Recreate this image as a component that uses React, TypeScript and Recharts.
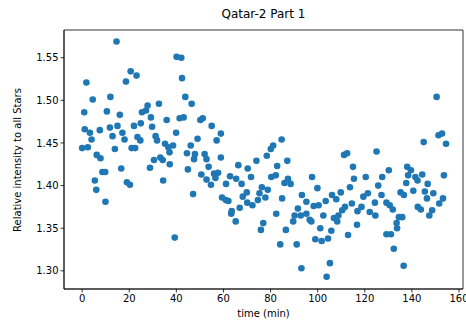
import React from 'react';
import { ScatterChart, Scatter, XAxis, YAxis, ReferenceArea } from 'recharts';

// time (min) and relative intensity
const times = [
    0.0, 0.9, 1.1, 1.8, 2.4, 3.3, 4.0, 4.5, 5.4, 6.0, 6.2, 7.5, 7.8, 8.6, 9.8, 9.9, 10.5, 11.8, 12.0, 12.9,
    13.9, 14.6, 15.0, 16.0, 16.6, 17.1, 18.0, 18.6, 19.0, 20.3, 20.6, 21.0, 22.0, 22.5, 23.1, 23.5, 24.7, 24.9, 25.4,
    27.1, 27.8, 28.8, 29.2, 29.7, 30.5, 31.2, 31.8, 32.6, 33.2, 34.2, 34.4, 35.2, 35.9, 36.6, 37.1, 37.2, 38.6, 39.3,
    39.9, 40.1, 41.4, 42.1, 42.4, 43.1, 43.8, 44.5, 44.9, 46.1, 46.5, 47.1, 47.5, 47.9, 49.0, 50.2, 50.6, 51.2, 52.0,
    52.8, 52.8, 53.7, 54.7, 55.0, 56.0, 56.6, 57.1, 57.7, 58.9, 58.9, 59.4,
    61.0, 61.1, 62.1, 62.8, 63.3, 63.5, 65.2, 65.4, 66.3, 66.9, 67.7, 68.2, 69.9, 70.1, 70.3, 71.7, 72.3, 74.0, 74.6,
    75.3, 75.9, 76.3, 76.9, 77.8, 78.4, 78.8, 80.1, 80.3, 81.1, 82.2, 82.4, 82.8, 84.1, 84.7, 84.9, 85.9, 86.5, 87.1,
    87.4, 88.5, 89.6, 90.2, 91.1, 91.6, 92.8, 93.1, 93.3,
    95.2, 95.2, 96.6, 97.3, 97.6, 98.3, 99.0, 99.9, 100.4, 101.1, 101.7, 102.4, 103.4, 103.8, 104.4, 105.2, 105.8,
    106.1, 106.9, 107.9, 108.3, 108.8, 109.8, 110.4, 111.2, 111.6, 112.5, 112.9, 113.7, 114.5, 115.0, 115.4, 116.7,
    116.9, 118.6, 119.4, 120.4, 121.3, 122.1, 124.3, 124.5, 125.0, 125.7, 127.1, 127.4,
    129.2, 129.2, 130.2, 130.6, 131.1, 131.9, 132.3, 133.5, 133.7, 134.5, 135.2, 135.9, 136.5, 136.6, 137.6, 138.0,
    138.4, 139.6, 140.6, 141.5, 142.4, 142.5, 143.8, 144.4, 145.0, 145.5, 146.4, 146.7, 147.4, 148.6, 149.1, 150.5,
    151.3, 151.6, 152.8, 153.2, 153.6, 154.5,
];

const intensity = [
    1.444, 1.486, 1.466, 1.521, 1.445, 1.462, 1.454, 1.501, 1.406, 1.395, 1.436, 1.465, 1.432, 1.416, 1.416, 1.381, 1.487, 1.468, 1.504, 1.458,
    1.443, 1.569, 1.470, 1.483, 1.420, 1.462, 1.454, 1.522, 1.404, 1.401, 1.534, 1.444, 1.470, 1.444, 1.529, 1.457, 1.453, 1.473, 1.486,
    1.488, 1.494, 1.421, 1.480, 1.469, 1.430, 1.458, 1.453, 1.496, 1.433, 1.430, 1.406, 1.449, 1.477, 1.445, 1.439, 1.425, 1.447, 1.339,
    1.462, 1.551, 1.479, 1.550, 1.526, 1.480, 1.504, 1.438, 1.419, 1.447, 1.496, 1.390, 1.431, 1.437, 1.455, 1.477, 1.413, 1.479, 1.437,
    1.431, 1.407, 1.422, 1.401, 1.470, 1.414, 1.409, 1.453, 1.415, 1.461, 1.433, 1.386,
    1.383, 1.402, 1.382, 1.411, 1.367, 1.370, 1.358, 1.408, 1.424, 1.374, 1.402, 1.387, 1.392, 1.380, 1.420, 1.410, 1.377, 1.429, 1.383,
    1.391, 1.348, 1.398, 1.356, 1.386, 1.435, 1.395, 1.443, 1.410, 1.447, 1.412, 1.367, 1.423, 1.331, 1.454, 1.385, 1.403, 1.348, 1.429,
    1.408, 1.402, 1.358, 1.365, 1.331, 1.373, 1.365, 1.303, 1.389,
    1.381, 1.367, 1.360, 1.358, 1.410, 1.376, 1.337, 1.397, 1.377, 1.350, 1.335, 1.365, 1.382, 1.293, 1.338, 1.309, 1.347,
    1.389, 1.362, 1.384, 1.358, 1.365, 1.392, 1.371, 1.436, 1.375, 1.438, 1.342, 1.398, 1.379, 1.422, 1.408, 1.354,
    1.370, 1.375, 1.387, 1.410, 1.391, 1.369, 1.380, 1.365, 1.440, 1.400, 1.389, 1.410,
    1.380, 1.343, 1.418, 1.377, 1.343, 1.372, 1.326, 1.356, 1.350, 1.363, 1.392, 1.363, 1.306, 1.389, 1.403, 1.422,
    1.412, 1.418, 1.394, 1.410, 1.406, 1.375, 1.372, 1.413, 1.451, 1.393, 1.385, 1.402, 1.365, 1.371, 1.391, 1.504,
    1.459, 1.379, 1.461, 1.385, 1.412, 1.449,
];

const xTicks = [0, 20, 40, 60, 80, 100, 120, 140, 160];
const yTicks = [1.3, 1.35, 1.4, 1.45, 1.5, 1.55];
const xDomain = [-7.7, 161.7];
const yDomain = [1.2787, 1.5825];

const points = times.map((t, i) => ({ t, v: intensity[i] }));

const font = '"DejaVu Sans", sans-serif';
const tickStyle = { fontSize: 10, fill: '#000', fontFamily: font };

const Dot = (props: any) => <circle cx={props.cx} cy={props.cy} r={3.3} fill="#1f77b4" />;

export default function App() {
    return (
        <div style={{ position: 'absolute', left: 0, top: 0, width: 466, height: 325, background: '#fff', fontFamily: font }}>
            <div style={{ position: 'absolute', left: 64, width: 399, top: 7, textAlign: 'center', fontSize: 12, color: '#000' }}>
                Qatar-2 Part 1
            </div>
            <div style={{
                position: 'absolute', left: 17, top: 160, fontSize: 10, color: '#000', whiteSpace: 'nowrap',
                transform: 'translate(-50%, -50%) rotate(-90deg)',
            }}>
                Relative intensity to all Stars
            </div>
            <div style={{ position: 'absolute', left: 64, width: 399, top: 308, textAlign: 'center', fontSize: 10, color: '#000' }}>
                time (min)
            </div>
            <ScatterChart width={466} height={325} margin={{ top: 30, right: 3, bottom: 6, left: 24 }}>
                <XAxis
                    type="number"
                    dataKey="t"
                    domain={xDomain}
                    ticks={xTicks}
                    allowDataOverflow
                    height={30}
                    tick={tickStyle}
                    tickSize={3.5}
                    tickMargin={2}
                    interval={0}
                    axisLine={{ stroke: '#000', strokeWidth: 0.8 }}
                    tickLine={{ stroke: '#000', strokeWidth: 0.8 }}
                />
                <YAxis
                    type="number"
                    dataKey="v"
                    domain={yDomain}
                    ticks={yTicks}
                    allowDataOverflow
                    width={40}
                    tick={tickStyle}
                    tickSize={3.5}
                    tickMargin={2}
                    interval={0}
                    tickFormatter={(v: number) => v.toFixed(2)}
                    axisLine={{ stroke: '#000', strokeWidth: 0.8 }}
                    tickLine={{ stroke: '#000', strokeWidth: 0.8 }}
                />
                {/* frame around the axes, like matplotlib's spines */}
                <ReferenceArea
                    x1={xDomain[0]}
                    x2={xDomain[1]}
                    y1={yDomain[0]}
                    y2={yDomain[1]}
                    fill="none"
                    fillOpacity={0}
                    stroke="#000"
                    strokeWidth={0.8}
                    ifOverflow="visible"
                />
                <Scatter data={points} shape={Dot} isAnimationActive={false} />
            </ScatterChart>
        </div>
    );
}
